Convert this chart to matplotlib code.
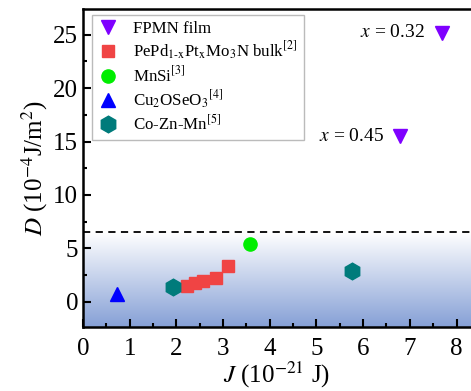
import numpy as np
import matplotlib.pyplot as plt
from matplotlib.colors import LinearSegmentedColormap

plt.rcParams['font.family'] = ['Liberation Serif', 'DejaVu Serif']
plt.rcParams['mathtext.fontset'] = 'stix'

# data
fpmn_J = [7.68, 6.80]
fpmn_D = [25.2, 15.5]
fpmn_lab = ['$x$ = 0.32', '$x$ = 0.45']
pepd_J = [2.22, 2.40, 2.58, 2.85, 3.10]
pepd_D = [1.5, 1.75, 1.95, 2.25, 3.35]
mnsi_J = [3.58]
mnsi_D = [5.4]
cu_J = [0.73]
cu_D = [0.7]
co_J = [1.93, 5.77]
co_D = [1.35, 2.9]
d_line = 6.5

fig = plt.figure(figsize=(4.71, 3.91), dpi=100)
ax = fig.add_axes([83/471, 1-327/391, 1-83/471, (327-9)/391])
xlim = (0, 8.31)
ylim = (-2.35, 27.4)

# gradient band below the dashed line
cmap = LinearSegmentedColormap.from_list('band', ['#86a0d6', '#ffffff'])
grad = np.linspace(0, 1, 256).reshape(-1, 1)
ax.imshow(grad, cmap=cmap, origin='lower', aspect='auto',
          extent=[xlim[0], xlim[1], ylim[0], d_line], zorder=0)
ax.axhline(d_line, color='k', ls=(0, (4, 3)), lw=1.3, zorder=1)

ax.plot(fpmn_J, fpmn_D, 'v', color='#7f00ff', ms=10, ls='none', label='FPMN film', zorder=3)
ax.plot(pepd_J, pepd_D, 's', color='#f04444', ms=8, ls='none',
        label=r'PePd$_{\rm 1\text{-}x}$Pt$_{\rm x}$Mo$_{\rm 3}$N bulk$^{[2]}$', zorder=3)
ax.plot(mnsi_J, mnsi_D, 'o', color='#00ee00', ms=9.5, ls='none', label='MnSi$^{[3]}$', zorder=3)
ax.plot(cu_J, cu_D, '^', color='#0000ff', ms=10, ls='none', label='Cu$_2$OSeO$_3$$^{[4]}$', zorder=3)
ax.plot(co_J, co_D, 'h', color='#007b7b', ms=12, ls='none', label='Co-Zn-Mn$^{[5]}$', zorder=3)

for j, d, t in zip(fpmn_J, fpmn_D, fpmn_lab):
    ax.text(j - 0.36, d, t, fontsize=14, ha='right', va='center')

ax.set_xlim(*xlim)
ax.set_ylim(*ylim)
ax.set_xticks(np.arange(0, 9, 1))
ax.set_xticks(np.arange(0.5, 8.5, 1), minor=True)
ax.set_yticks(np.arange(0, 30, 5))
ax.set_yticks(np.arange(2.5, 27.5, 5), minor=True)
ax.tick_params(which='both', direction='in', labelsize=18, width=1.5)
ax.tick_params(which='major', length=6)
ax.tick_params(which='minor', length=3)
ax.tick_params(axis='x', pad=8)
ax.spines['right'].set_visible(False)
for s in ['left', 'top', 'bottom']:
    ax.spines[s].set_linewidth(1.8)

ax.set_xlabel('$J$ (10$^{-21}$ J)', fontsize=18, labelpad=0)
ax.set_ylabel('$D$ (10$^{-4}$J/m$^2$)', fontsize=18, labelpad=2)

leg = ax.legend(loc='upper left', fontsize=12.2, frameon=True, fancybox=False,
                edgecolor='#aaaaaa', borderpad=0.35, labelspacing=0.18,
                handlelength=1.2, handletextpad=0.9, borderaxespad=0,
                bbox_to_anchor=(0.023, 0.981))
leg.get_frame().set_linewidth(1.0)

fig.savefig('out.png', dpi=100)
